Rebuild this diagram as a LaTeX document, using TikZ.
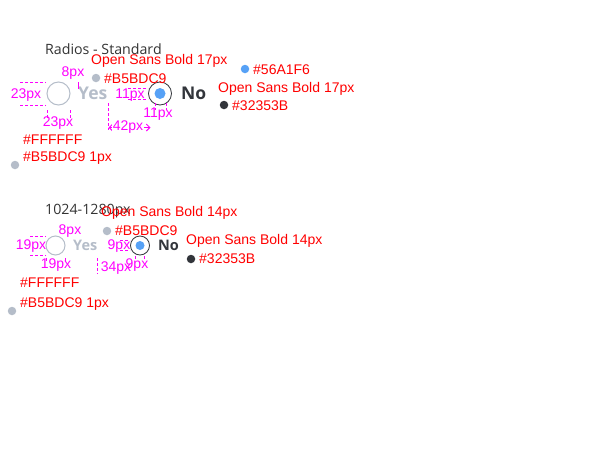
\documentclass[tikz,border=0pt]{standalone}
\usepackage{fontspec}
\setmainfont{Liberation Sans}
\newfontfamily\osans{Open Sans}
\usetikzlibrary{arrows.meta}
\definecolor{annc}{HTML}{FF0000}
\definecolor{dimc}{HTML}{FF00FF}
\definecolor{gryc}{HTML}{B5BDC9}
\definecolor{bluc}{HTML}{56A1F6}
\definecolor{drkc}{HTML}{32353B}
\definecolor{ttlc}{HTML}{333333}
\tikzset{
  lbl/.style={inner sep=0pt, anchor=west, text=annc, font=\fontsize{14}{16}\selectfont},
  dimtxt/.style={inner sep=0pt, text=dimc, font=\fontsize{14}{16}\selectfont},
  dimline/.style={draw=dimc, dash pattern=on 3pt off 2pt, line width=1pt},
  title/.style={inner sep=0pt, anchor=west, text=ttlc, font=\osans\fontsize{14.2}{16}\selectfont},
  swatch/.style={circle, inner sep=0pt, minimum size=8.5pt},
  radiooff/.style={circle, draw=gryc, fill=white, line width=1pt, inner sep=0pt},
  radioon/.style={circle, draw=drkc, fill=white, line width=0.8pt, inner sep=0pt},
  dot/.style={circle, fill=bluc, inner sep=0pt},
  optyes/.style={inner sep=0pt, anchor=west, text=gryc, font=\osans\bfseries\fontsize{#1}{#1}\selectfont},
  optno/.style={inner sep=0pt, anchor=west, text=drkc, font=\osans\bfseries\fontsize{#1}{#1}\selectfont},
}
\begin{document}
\begin{tikzpicture}[x=1pt,y=-1pt]
\useasboundingbox (0,0) rectangle (600,466);
% ---------- Section 1 ----------
\node[title] (t1) at (45,49) {Radios - Standard};
\node[radiooff, minimum size=23pt] (r1) at (58.5,93.5) {};
\node[optyes=17.5] (y1) at (78,93.5) {Yes};
\node[radioon, minimum size=23pt] (c1) at (160,93.5) {};
\node[dot, minimum size=11pt] (d1) at (c1) {};
\node[optno=17.5] (n1) at (181,93.5) {No};
% annotations
\node[lbl] (a1) at (91,61) {Open Sans Bold 17px};
\node[swatch, fill=gryc] (s1) at (96,78) {};
\node[lbl] (a2) at (104,79) {\#B5BDC9};
\node[swatch, fill=bluc] (s2) at (245,69) {};
\node[lbl] (a3) at (253,70) {\#56A1F6};
\node[lbl] (a4) at (218,89) {Open Sans Bold 17px};
\node[swatch, fill=drkc] (s3) at (224,105) {};
\node[lbl] (a5) at (232,106) {\#32353B};
\node[lbl] (a6) at (23,140) {\#FFFFFF};
% dashed dimension lines, one path
\draw[dimline]
  (20,82.5) -- (46,82.5)
  (20,105.5) -- (46,105.5)
  (47.5,110) -- (47.5,118)
  (70.5,110) -- (70.5,118)
  (128,88.5) -- (148,88.5)
  (128,99.5) -- (148,99.5)
  (155.5,103) -- (155.5,110)
  (166.5,103) -- (166.5,110)
  (108.5,103) -- (108.5,130);
\node[lbl] (a7) at (23,158) {\#B5BDC9 1px};
\draw[dimline, solid] (78.5,82) -- (78.5,89);
\node[swatch, fill=gryc] (s4) at (15,165) {};
\coordinate (p1) at (108.5,127.5);
\coordinate (p2) at (150.5,127.5);
\draw[dimline, solid, {Straight Barb[length=3.5pt,width=7pt]}-{Straight Barb[length=3.5pt,width=7pt]}] (p1) -- (p2);
\node[dimtxt] (m1) at (26,95) {23px};
\node[dimtxt] (m2) at (58,123) {23px};
\node[dimtxt] (m3) at (73,73) {8px};
\node[dimtxt] (m4) at (130,95) {11px};
\node[dimtxt] (m5) at (158,114) {11px};
\node[dimtxt, fill=white, inner sep=0.5pt] (m6) at (128,127) {42px};
% ---------- Section 2 ----------
\node[title] (t2) at (45,211) {1024-1280px};
\node[radiooff, minimum size=19pt] (r2) at (55.5,245.5) {};
\node[optyes=14.5] (y2) at (73,245.5) {Yes};
\node[radioon, minimum size=19pt] (c2) at (140,245.5) {};
\node[dot, minimum size=9pt] (d2) at (c2) {};
\node[optno=14.5] (n2) at (158,245.5) {No};
\node[lbl] (b1) at (101,213) {Open Sans Bold 14px};
\node[swatch, fill=gryc] (u1) at (107,231) {};
\node[lbl] (b2) at (115,231) {\#B5BDC9};
\node[lbl] (b3) at (186,241) {Open Sans Bold 14px};
\node[swatch, fill=drkc] (u2) at (191,259) {};
\node[lbl] (b4) at (199,259) {\#32353B};
\node[lbl] (b5) at (20,283) {\#FFFFFF};
\draw[dimline]
  (30,236.5) -- (46,236.5)
  (30,255.5) -- (46,255.5)
  (46.5,258) -- (46.5,262)
  (65.5,258) -- (65.5,262)
  (120,240.5) -- (130,240.5)
  (120,250.5) -- (130,250.5)
  (135.5,256) -- (135.5,260)
  (144.5,256) -- (144.5,260)
  (97.5,258) -- (97.5,274);
\node[swatch, fill=gryc] (u3) at (12,311) {};
\node[lbl] (b6) at (20,304) {\#B5BDC9 1px};
\node[dimtxt] (k1) at (31,246) {19px};
\node[dimtxt] (k2) at (56,265) {19px};
\node[dimtxt] (k3) at (70,231) {8px};
\node[dimtxt] (k4) at (119,246) {9px};
\node[dimtxt] (k5) at (137,265) {9px};
\node[dimtxt] (k6) at (116,268) {34px};
\end{tikzpicture}
\end{document}
